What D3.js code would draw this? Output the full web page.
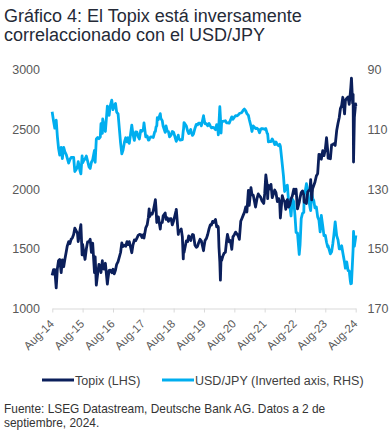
<!DOCTYPE html>
<html>
<head>
<meta charset="utf-8">
<script src="https://cdn.jsdelivr.net/npm/d3@7"></script>
<style>
  body { margin: 0; background: #fff; }
  svg { display: block; font-family: "Liberation Sans", Arial, sans-serif; }
</style>
</head>
<body>
<svg id="chart" width="392" height="435"></svg>
<script>
// month-end closes (approx.) plus a few intramonth extremes
var dates = [
  "2014-08-29","2014-09-30","2014-10-17","2014-10-31","2014-11-28","2014-12-30",
  "2015-01-30","2015-02-27","2015-03-31","2015-04-30","2015-05-29","2015-06-30","2015-07-31","2015-08-10","2015-08-25","2015-08-31","2015-09-29","2015-10-30","2015-11-30","2015-12-30",
  "2016-01-29","2016-02-12","2016-02-29","2016-03-31","2016-04-29","2016-05-31","2016-06-24","2016-06-30","2016-07-29","2016-08-16","2016-08-31","2016-09-30","2016-10-31","2016-11-30","2016-12-15","2016-12-30",
  "2017-01-31","2017-02-28","2017-03-31","2017-04-14","2017-04-28","2017-05-31","2017-06-30","2017-07-31","2017-08-31","2017-09-08","2017-09-29","2017-10-31","2017-11-30","2017-12-29",
  "2018-01-23","2018-01-31","2018-02-28","2018-03-23","2018-03-30","2018-04-27","2018-05-31","2018-06-29","2018-07-31","2018-08-31","2018-09-28","2018-10-31","2018-11-30","2018-12-25","2018-12-28",
  "2019-01-03","2019-01-31","2019-02-28","2019-03-29","2019-04-26","2019-05-31","2019-06-28","2019-07-31","2019-08-26","2019-08-30","2019-09-30","2019-10-31","2019-11-29","2019-12-27",
  "2020-01-17","2020-01-31","2020-02-28","2020-03-09","2020-03-16","2020-03-24","2020-03-31","2020-04-30","2020-05-29","2020-06-30","2020-07-31","2020-08-31","2020-09-30","2020-10-30","2020-11-30","2020-12-30",
  "2021-01-29","2021-02-26","2021-03-31","2021-04-30","2021-05-31","2021-06-30","2021-07-30","2021-08-31","2021-09-14","2021-09-30","2021-10-29","2021-11-30","2021-12-30",
  "2022-01-31","2022-02-28","2022-03-08","2022-03-31","2022-04-28","2022-05-31","2022-06-30","2022-07-29","2022-08-31","2022-09-30","2022-10-21","2022-10-31","2022-11-30","2022-12-30",
  "2023-01-16","2023-01-31","2023-02-28","2023-03-31","2023-04-28","2023-05-31","2023-06-30","2023-07-31","2023-08-31","2023-09-29","2023-10-31","2023-11-30","2023-12-28",
  "2024-01-31","2024-02-29","2024-03-29","2024-04-29","2024-05-31","2024-06-28","2024-07-11","2024-07-31","2024-08-05","2024-08-30","2024-09-02"
];
var topix = [
  1277,1326,1172,1333,1410,1408,
  1415,1523,1543,1592,1673,1630,1659,1702,1449,1537,1411,1558,1580,1547,
  1432,1196,1297,1347,1340,1379,1204,1245,1322,1300,1329,1322,1393,1469,1550,1519,
  1521,1535,1512,1467,1531,1568,1612,1618,1617,1590,1675,1765,1792,1818,
  1911,1836,1768,1665,1716,1777,1747,1730,1753,1735,1817,1646,1667,1415,1494,
  1470,1567,1608,1591,1617,1512,1551,1565,1484,1511,1587,1667,1699,1721,
  1745,1684,1511,1390,1237,1425,1403,1464,1563,1558,1496,1618,1626,1579,1754,1805,
  1808,1864,1954,1898,1922,1943,1901,1960,2118,2030,2001,1928,1992,
  1896,1886,1758,1946,1899,1912,1871,1940,1963,1835,1888,1929,1985,1892,
  1880,1975,1993,2003,2057,2130,2289,2322,2332,2323,2254,2374,2366,
  2551,2675,2769,2743,2772,2809,2929,2794,2227,2713,2695
];
var usdjpy = [
  104.1,109.6,106.9,112.3,118.6,119.8,
  117.5,119.6,120.1,119.4,124.1,122.4,123.9,124.9,118.9,121.2,119.9,120.6,123.1,120.2,
  121.0,113.2,112.7,112.5,106.5,110.7,102.2,103.2,102.1,100.2,103.4,101.3,104.8,114.5,118.2,116.9,
  112.8,112.8,111.4,108.6,111.5,110.8,112.4,110.3,110.0,107.8,112.5,113.6,112.5,112.7,
  110.7,109.2,106.7,104.7,106.3,109.0,108.8,110.7,111.9,111.0,113.7,112.9,113.5,110.4,110.0,
  107.7,108.9,111.4,110.9,111.6,108.3,107.9,108.8,105.4,106.3,108.1,108.0,109.5,109.4,
  110.1,108.4,107.9,102.4,105.9,111.2,107.5,107.2,107.8,107.9,105.8,105.9,105.5,104.7,104.3,103.2,
  104.7,106.6,110.7,109.3,109.6,111.1,109.7,110.0,109.7,111.3,114.0,113.2,115.1,
  115.1,115.0,115.6,121.7,130.8,128.7,135.7,133.3,138.9,144.7,151.9,148.7,138.1,131.1,
  128.2,130.1,136.2,133.1,136.3,139.3,144.3,142.3,145.5,149.4,151.7,148.2,141.0,
  147.0,150.0,151.3,156.5,157.3,160.9,161.6,150.0,144.2,146.2,145.5
];

// mid-month readings (approx.)
var midDates = [
  "2014-09-15","2014-11-14","2014-12-16",
  "2015-01-15","2015-02-16","2015-03-16","2015-04-15","2015-05-15","2015-06-15","2015-07-09","2015-09-15","2015-10-15","2015-11-16","2015-12-15",
  "2016-01-21","2016-03-15","2016-04-08","2016-04-25","2016-05-16","2016-07-15","2016-09-15","2016-10-14",
  "2017-01-16","2017-02-15","2017-03-15","2017-05-15","2017-06-15","2017-07-14","2017-08-15","2017-10-16","2017-11-09","2017-11-15","2017-12-15",
  "2018-01-15","2018-02-09","2018-02-15","2018-04-16","2018-05-21","2018-06-15","2018-07-13","2018-08-15","2018-10-02","2018-10-26","2018-11-15","2018-12-14",
  "2019-02-15","2019-03-25","2019-04-15","2019-05-15","2019-06-14","2019-07-15","2019-09-13","2019-10-15","2019-11-15","2019-12-13",
  "2020-02-14","2020-02-20","2020-04-15","2020-05-15","2020-06-09","2020-07-15","2020-08-14","2020-09-15","2020-10-15","2020-11-16","2020-12-15",
  "2021-01-15","2021-02-16","2021-03-19","2021-04-15","2021-05-13","2021-06-15","2021-07-15","2021-08-20","2021-10-06","2021-10-15","2021-11-15","2021-12-15",
  "2022-01-14","2022-02-15","2022-04-14","2022-05-12","2022-06-15","2022-07-15","2022-08-17","2022-09-13","2022-11-14","2022-12-15","2022-12-20",
  "2023-02-15","2023-03-08","2023-03-20","2023-04-14","2023-05-15","2023-06-15","2023-07-14","2023-08-15","2023-09-15","2023-10-04","2023-11-15","2023-12-12",
  "2024-01-15","2024-02-15","2024-03-15","2024-04-19","2024-05-15","2024-06-14","2024-07-03","2024-07-25","2024-08-15"
];
var midTopix = [
  1325,1400,1300,
  1350,1480,1560,1580,1620,1650,1560,1470,1500,1560,1470,
  1300,1370,1300,1400,1330,1320,1290,1370,
  1530,1560,1560,1575,1590,1620,1595,1700,1835,1770,1790,
  1880,1720,1730,1720,1800,1760,1750,1700,1830,1620,1650,1600,
  1560,1570,1620,1530,1520,1580,1570,1620,1700,1730,
  1690,1680,1440,1470,1620,1570,1600,1640,1610,1730,1780,
  1850,1990,2012,1950,1850,1960,1930,1880,1920,2030,2040,1960,
  1970,1920,1910,1830,1850,1920,2000,2000,1970,1950,1890,
  1990,2080,1910,2030,2110,2290,2250,2280,2430,2260,2370,2380,
  2490,2600,2700,2630,2760,2710,2850,2720,2600
];
var midUsd = [
  107.2,116.3,116.0,
  116.0,118.5,121.3,119.4,119.4,123.4,120.8,120.4,118.9,122.6,121.0,
  117.0,113.1,108.1,111.3,108.9,105.3,102.0,104.2,
  114.2,114.2,114.7,113.7,110.9,113.2,110.6,112.2,113.5,112.9,112.6,
  110.8,108.8,106.1,107.1,111.0,110.6,112.5,110.7,114.0,111.9,113.6,113.4,
  110.5,110.0,112.0,109.6,108.5,107.9,108.1,108.8,108.8,109.3,
  109.8,111.8,107.3,107.1,107.8,106.9,106.6,105.4,105.2,104.5,103.6,
  103.8,105.3,108.9,108.8,109.7,110.0,109.9,109.8,111.5,114.2,114.1,114.0,
  114.2,115.5,125.5,129.0,134.2,139.0,134.2,144.5,139.9,137.8,131.9,
  134.0,137.2,131.3,133.8,136.0,140.3,138.8,145.6,147.8,149.0,151.0,145.4,
  145.6,150.0,149.0,154.6,154.4,157.4,161.7,153.5,149.2
];

var leftTicks = [1000, 1500, 2000, 2500, 3000];
var rightTicks = [90, 110, 130, 150, 170];
var tickYears = [2014, 2015, 2016, 2017, 2018, 2019, 2020, 2021, 2022, 2023, 2024];
var seriesNames = ["Topix (LHS)", "USD/JPY (Inverted axis, RHS)"];
var colors = ["#0b1f5b", "#00aeef"];

var parse = d3.timeParse("%Y-%m-%d");
var rows = dates.map(function(d, i){
  return { date: parse(d), topix: topix[i], usd: usdjpy[i] };
}).concat(midDates.map(function(d, i){
  return { date: parse(d), topix: midTopix[i], usd: midUsd[i] };
}));
rows.sort((a, b) => a.date - b.date);

var svg = d3.select("#chart");
var plotL = 52.3, plotR = 355.7, plotT = 69.7, plotB = 308.5;

var x = d3.scaleTime()
  .domain([new Date(2014, 7, 31), new Date(2024, 7, 31)])
  .range([plotL, plotR]);
var yL = d3.scaleLinear().domain([1000, 3000]).range([plotB, plotT]);
var yR = d3.scaleLinear().domain([170, 90]).range([plotB, plotT]);

// title, two lines
svg.append("text")
  .attr("x", 4).attr("y", 22)
  .attr("fill", "#252a37")
  .style("font-size", "18px")
  .text("Gráfico 4: El Topix está inversamente");
svg.append("text")
  .attr("x", 4).attr("y", 41)
  .attr("fill", "#252a37")
  .style("font-size", "18px")
  .text("correlaccionado con el USD/JPY");

// left axis labels
svg.append("g")
  .selectAll("text")
  .data(leftTicks)
  .enter()
  .append("text")
    .attr("x", 40)
    .attr("y", d => yL(d) + 4.5)
    .attr("text-anchor", "end")
    .attr("fill", "#595959")
    .style("font-size", "12.5px")
    .text(d => d);

// right axis labels
svg.append("g")
  .selectAll("text")
  .data(rightTicks)
  .enter()
  .append("text")
    .attr("x", 367.5)
    .attr("y", d => yR(d) + 4.5)
    .attr("fill", "#595959")
    .style("font-size", "12.5px")
    .text(d => d);

// x axis
var xAxis = d3.axisBottom(x)
  .tickValues(tickYears.map(yr => new Date(yr, 7, 31)))
  .tickFormat(d3.timeFormat("%b-%y"))
  .tickSizeInner(4)
  .tickSizeOuter(0);

var gx = svg.append("g")
  .attr("transform", `translate(0, ${plotB})`)
  .call(xAxis);
gx.select(".domain").attr("stroke", "#d9d9d9");
gx.selectAll(".tick line").attr("stroke", "#d9d9d9");
gx.selectAll(".tick text")
  .attr("fill", "#595959")
  .style("font-size", "11.5px")
  .style("font-family", "'Liberation Sans', Arial, sans-serif")
  .attr("text-anchor", "end")
  .attr("dy", null)
  .attr("y", 0)
  .attr("transform", "translate(2, 16) rotate(-45)");

// lines
var lineUsd = d3.line().x(d => x(d.date)).y(d => yR(d.usd));
var lineTopix = d3.line().x(d => x(d.date)).y(d => yL(d.topix));

svg.append("path")
  .datum(rows)
  .attr("fill", "none")
  .attr("stroke", colors[1])
  .attr("stroke-width", 2.8)
  .attr("stroke-linejoin", "round")
  .attr("d", lineUsd);

svg.append("path")
  .datum(rows)
  .attr("fill", "none")
  .attr("stroke", colors[0])
  .attr("stroke-width", 2.8)
  .attr("stroke-linejoin", "round")
  .attr("d", lineTopix);

// legend
var legendX = [42, 162];
var legend = svg.append("g");
seriesNames.forEach(function(name, i){
  legend.append("line")
    .attr("x1", legendX[i]).attr("x2", legendX[i] + 32)
    .attr("y1", 380).attr("y2", 380)
    .attr("stroke", colors[i])
    .attr("stroke-width", 3);
  legend.append("text")
    .attr("x", legendX[i] + 33)
    .attr("y", 384.5)
    .attr("fill", "#404040")
    .style("font-size", "12.5px")
    .text(name);
});

// source
var src = svg.append("text")
  .attr("fill", "#333")
  .style("font-size", "11.9px");
src.append("tspan").attr("x", 4).attr("y", 413).text("Fuente: LSEG Datastream, Deutsche Bank AG. Datos a 2 de");
src.append("tspan").attr("x", 4).attr("y", 427).text("septiembre, 2024.");
</script>
</body>
</html>
